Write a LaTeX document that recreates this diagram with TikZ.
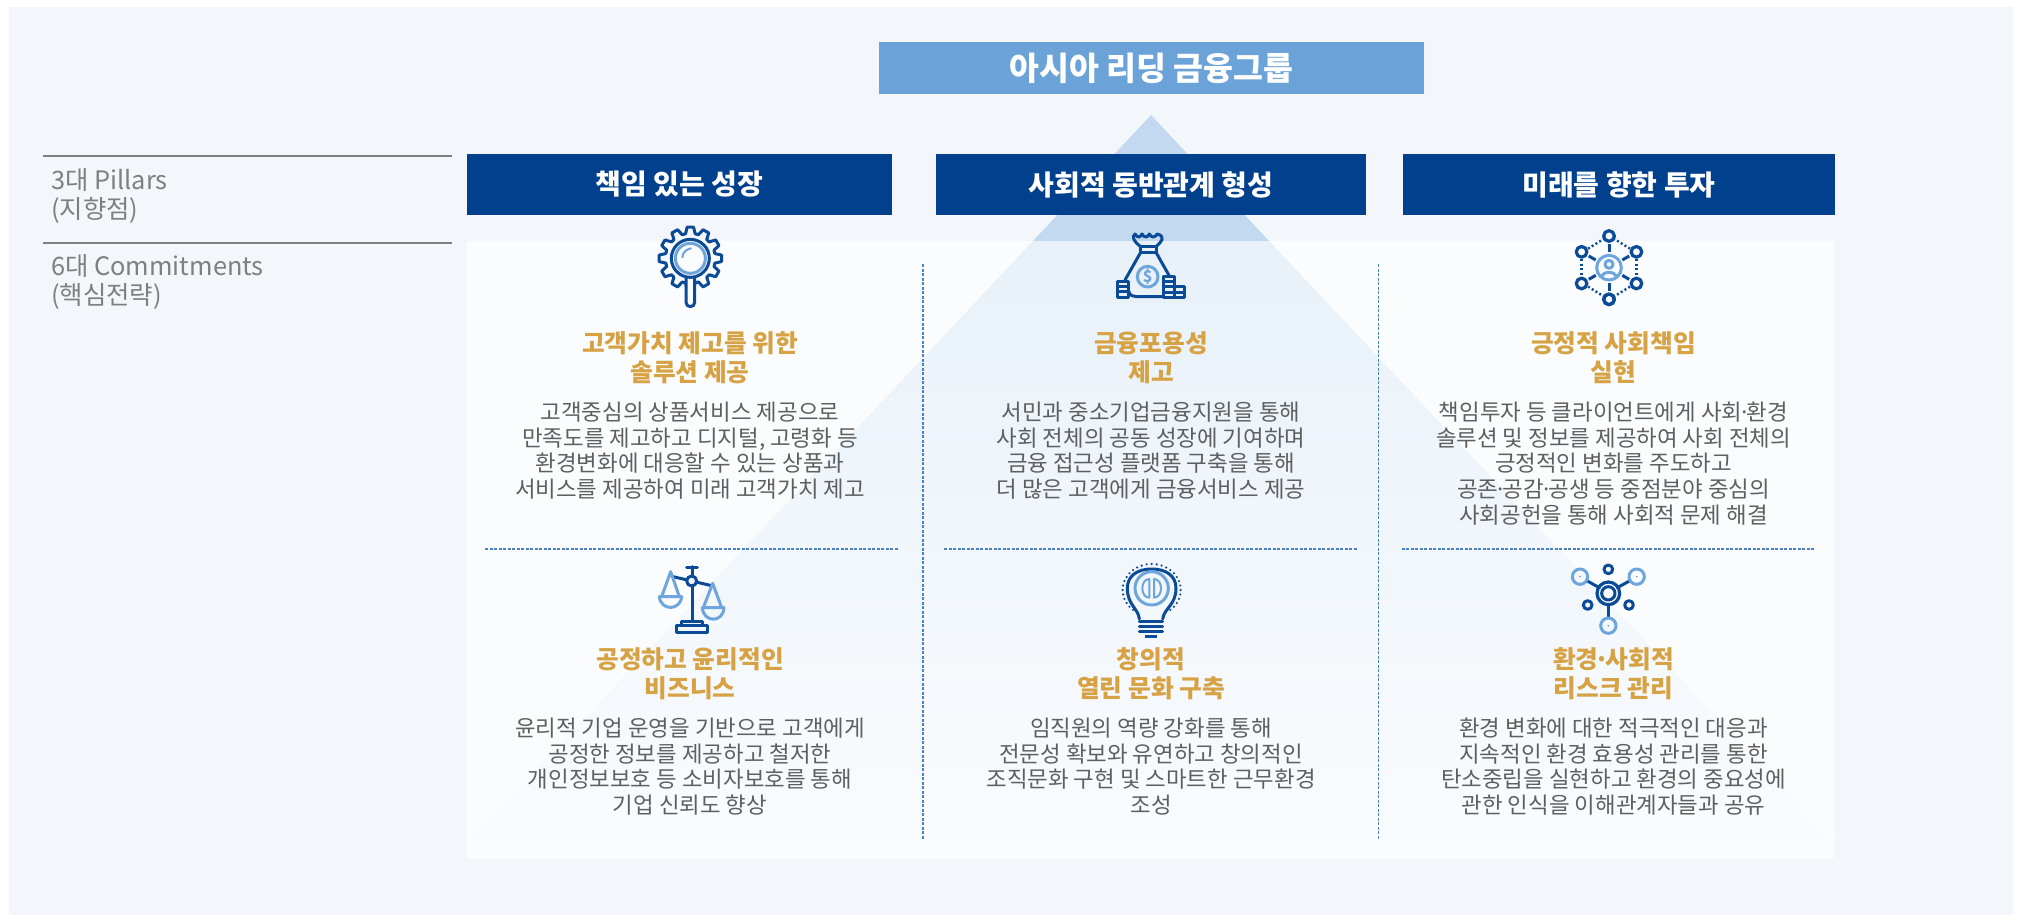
\documentclass[tikz,border=0pt]{standalone}
\usepackage{fontspec}
\setmainfont{Noto Sans CJK KR}
\definecolor{bgc}{HTML}{F3F6FB}
\definecolor{panelc}{HTML}{FAFCFE}
\definecolor{triup}{HTML}{C3D9EF}
\definecolor{tritop}{HTML}{E8F1F9}
\definecolor{tribot}{HTML}{FAFCFE}
\definecolor{navy}{HTML}{00408C}
\definecolor{topblue}{HTML}{6BA2D8}
\definecolor{icond}{HTML}{0B4A96}
\definecolor{iconl}{HTML}{6EA5DC}
\definecolor{gold}{HTML}{D6A244}
\definecolor{bodyc}{HTML}{5F5F5F}
\definecolor{sidec}{HTML}{7F7F7F}
\definecolor{dashc}{HTML}{4A82C6}
\newcommand{\mdot}{\kern-4pt·\kern-4pt}
\tikzset{
  pillar/.style={fill=navy,text=white,inner sep=0pt,minimum height=61pt,font=\fontsize{28}{32}\selectfont\bfseries},
  headbox/.style={fill=topblue,text=white,inner sep=0pt,minimum width=545pt,minimum height=52pt,font=\fontsize{32.5}{36}\selectfont\bfseries},
  sidelab/.style={anchor=west,align=left,inner sep=0pt,text=sidec,font=\fontsize{25.4}{29}\selectfont},
  goalt/.style={align=center,inner sep=0pt,text=gold,font=\fontsize{24.7}{29}\selectfont\bfseries},
  bodyt/.style={align=center,inner sep=0pt,text=bodyc,font=\fontsize{22.4}{25.7}\selectfont},
  sepline/.style={draw=dashc,line width=1.2pt,dash pattern=on 3pt off 1.5pt},
  sideline/.style={draw=sidec,line width=1.5pt},
  dk/.style={draw=icond,line width=3pt,line join=round,line cap=round},
  lt/.style={draw=iconl,line width=3pt,line join=round,line cap=round}
}
\begin{document}
\begin{tikzpicture}[x=1pt,y=-1pt]
\useasboundingbox (0,0) rectangle (2020,915);
\fill[white] (0,0) rectangle (2020,915);
\fill[bgc] (9,7) rectangle (2013,915);
% pyramid above the panel
\fill[triup] (1151,115) -- (1269,241) -- (1033,241) -- cycle;
% panel
\fill[panelc] (467,241) rectangle (1834,858);
% pyramid within the panel
\shade[top color=tritop,bottom color=tribot] (1033,241) -- (1269,241) -- (1849,858) -- (453,858) -- cycle;
\fill[bgc] (453,241) rectangle (467,858);
\fill[bgc] (1834,241) rectangle (1849,858);
% head and pillars
\node[headbox] (head) at (1151.5,68) {아시아 리딩 금융그룹};
\node[pillar,minimum width=425pt] (p1) at (679.5,184.5) {책임 있는 성장};
\node[pillar,minimum width=430pt] (p2) at (1151,184.5) {사회적 동반관계 형성};
\node[pillar,minimum width=432pt] (p3) at (1619,184.5) {미래를 향한 투자};
% side labels
\draw[sideline] (43,156) -- (452,156);
\draw[sideline] (43,243) -- (452,243);
\node[sidelab] (s1) at (51,196) {3대 Pillars\\(지향점)};
\node[sidelab] (s2) at (51,281.5) {6대 Commitments\\(핵심전략)};
% separators
\draw[sepline] (923,264) -- (923,839);
\draw[sepline] (1378.5,264) -- (1378.5,839);
\draw[sepline] (485,549) -- (898,549);
\draw[sepline] (944,549) -- (1357,549);
\draw[sepline] (1401.5,549) -- (1815,549);
% titles
\node[goalt] (t1) at (690,357.5) {고객가치 제고를 위한\\솔루션 제공};
\node[goalt] (t2) at (1151,357.5) {금융포용성\\제고};
\node[goalt] (t3) at (1613.5,357.5) {긍정적 사회책임\\실현};
\node[goalt] (t4) at (690,673.5) {공정하고 윤리적인\\비즈니스};
\node[goalt] (t5) at (1151,673.5) {창의적\\열린 문화 구축};
\node[goalt] (t6) at (1613.5,673.5) {환경\mdot 사회적\\리스크 관리};
% body
\node[bodyt] (b1) at (690,450.5) {고객중심의 상품서비스 제공으로\\만족도를 제고하고 디지털, 고령화 등\\환경변화에 대응할 수 있는 상품과\\서비스를 제공하여 미래 고객가치 제고};
\node[bodyt] (b2) at (1151,450.5) {서민과 중소기업금융지원을 통해\\사회 전체의 공동 성장에 기여하며\\금융 접근성 플랫폼 구축을 통해\\더 많은 고객에게 금융서비스 제공};
\node[bodyt] (b3) at (1613.5,463.5) {책임투자 등 클라이언트에게 사회\mdot 환경\\솔루션 및 정보를 제공하여 사회 전체의\\긍정적인 변화를 주도하고\\공존\mdot 공감\mdot 공생 등 중점분야 중심의\\사회공헌을 통해 사회적 문제 해결};
\node[bodyt] (b4) at (690,766.5) {윤리적 기업 운영을 기반으로 고객에게\\공정한 정보를 제공하고 철저한\\개인정보보호 등 소비자보호를 통해\\기업 신뢰도 향상};
\node[bodyt] (b5) at (1151,766.5) {임직원의 역량 강화를 통해\\전문성 확보와 유연하고 창의적인\\조직문화 구현 및 스마트한 근무환경\\조성};
\node[bodyt] (b6) at (1613.5,766.5) {환경 변화에 대한 적극적인 대응과\\지속적인 환경 효용성 관리를 통한\\탄소중립을 실현하고 환경의 중요성에\\관한 인식을 이해관계자들과 공유};
% gear icon
\begin{scope}[shift={(630,215)},scale=1/3]
  \draw[dk] (181,130) ++(79:75)
    \foreach \a in {90,120,...,420} { -- ++(0,0) -- ({181+75*cos(\a-11)},{130+75*sin(\a-11)}) -- ({181+94*cos(\a-6)},{130+94*sin(\a-6)}) -- ({181+94*cos(\a+6)},{130+94*sin(\a+6)}) -- ({181+75*cos(\a+11)},{130+75*sin(\a+11)}) } -- cycle;
  \fill[panelc] (166,180) rectangle (196,240);
  \draw[dk,fill=panelc] (168,185) -- (168,262) arc (180:0:13) -- (194,185);
  \draw[dk,fill=panelc] (181,130) circle (57);
  \draw[lt] (181,130) circle (45);
  \draw[lt,line width=2pt] (157,127) .. controls (158,112) and (168,103) .. (183,100);
\end{scope}
% money bag icon
\begin{scope}[shift={(1100,220)},scale=1/3]
  \draw[dk] (122,80) .. controls (105,68) and (92,50) .. (105,42) .. controls (113,54) and (120,54) .. (126,42) .. controls (134,54) and (142,54) .. (148,42) .. controls (155,54) and (163,54) .. (172,42) .. controls (198,50) and (185,65) .. (168,80);
  \draw[dk] (122,80) rectangle (168,97);
  \draw[dk] (122,97) -- (75,180);
  \draw[dk] (168,97) -- (208,168);
  \draw[dk] (85,212) .. controls (90,228) and (100,230) .. (110,230) -- (190,230);
  \draw[dk] (52,183) rectangle (85,232);
  \draw[dk] (52,199) -- (85,199);
  \draw[dk] (52,215) -- (85,215);
  \draw[dk] (190,170) rectangle (222,232);
  \draw[dk] (190,185) -- (222,185);
  \draw[dk] (190,200) -- (222,200);
  \draw[dk] (190,216) -- (222,216);
  \draw[dk] (222,200) rectangle (252,232);
  \draw[dk] (222,216) -- (252,216);
  \draw[lt] (143,170) circle (31);
  \node[text=iconl,inner sep=0pt,font=\fontsize{16}{16}\selectfont\bfseries] (dollar) at (143,170) {\$};
\end{scope}
% network icon
\begin{scope}[shift={(1560,220)},scale=1/3]
  \foreach \a in {90,150,...,450} {
    \draw[dk,line width=3.2pt] ({147+95*cos(\a)},{143+95*sin(\a)}) circle (16);
    \draw[draw=icond,line width=3pt] ({147+46*cos(\a)},{143+46*sin(\a)}) -- ({147+70*cos(\a)},{143+70*sin(\a)});
  }
  \draw[draw=icond,line width=2.4pt,dash pattern=on 2pt off 2.4pt] (160,55) -- (213,88);
  \draw[draw=icond,line width=2.4pt,dash pattern=on 2pt off 2.4pt] (134,55) -- (81,88);
  \draw[draw=icond,line width=2.4pt,dash pattern=on 2pt off 2.4pt] (160,231) -- (213,198);
  \draw[draw=icond,line width=2.4pt,dash pattern=on 2pt off 2.4pt] (134,231) -- (81,198);
  \draw[draw=icond,line width=2.4pt,dash pattern=on 2pt off 2.4pt] (65,118) -- (65,170);
  \draw[draw=icond,line width=2.4pt,dash pattern=on 2pt off 2.4pt] (229,118) -- (229,170);
  \draw[lt] (147,143) circle (37);
  \draw[lt] (147,133) circle (12);
  \draw[lt] (125,172) .. controls (127,152) and (167,152) .. (169,172);
\end{scope}
% scale icon
\begin{scope}[shift={(640,555)},scale=1/3]
  \draw[dk] (157,35) -- (157,198);
  \draw[dk] (140,37) -- (172,37);
  \draw[dk] (95,64) -- (215,92);
  \draw[dk,fill=bgc] (155,78) circle (15);
  \draw[dk] (125,198) rectangle (188,212);
  \draw[dk] (110,212) rectangle (202,232);
  \draw[lt] (65,125) -- (92,50) -- (118,125);
  \draw[lt] (58,125) .. controls (62,168) and (121,168) .. (125,125) -- cycle;
  \draw[lt] (190,158) -- (218,85) -- (245,158);
  \draw[lt] (187,158) .. controls (190,204) and (250,204) .. (252,158) -- cycle;
\end{scope}
% bulb icon
\begin{scope}[shift={(1100,555)},scale=1/3]
  \draw[dk] (118,192) .. controls (115,160) and (82,150) .. (82,100) .. controls (82,60) and (115,42) .. (155,42) .. controls (195,42) and (228,60) .. (228,100) .. controls (228,150) and (192,160) .. (188,192);
  \foreach \yy in {198,213,228} { \draw[dk] (118,\yy) -- (188,\yy); }
  \fill[icond] (136,239) rectangle (170,250);
  \foreach \a in {-50,-40,...,230} { \fill[icond] ({155+87*cos(\a)},{105-78*sin(\a)}) circle (3.6); }
  \draw[lt] (155,100) circle (50);
  \draw[lt,line width=2pt] (148,72) .. controls (120,72) and (120,128) .. (148,128) -- cycle;
  \draw[lt,line width=2pt] (162,72) .. controls (190,72) and (190,128) .. (162,128) -- cycle;
\end{scope}
% molecule icon
\begin{scope}[shift={(1560,555)},scale=1/3]
  \draw[dk] (82,78) -- (118,98);
  \draw[dk] (208,78) -- (172,98);
  \draw[dk] (145,150) -- (145,188);
  \draw[dk,line width=3.2pt] (145,115) circle (34);
  \draw[dk] (145,115) circle (20);
  \draw[lt] (60,65) circle (23);
  \draw[lt] (230,65) circle (23);
  \draw[lt] (145,212) circle (23);
  \fill[iconl] (60,65) circle (3);
  \fill[iconl] (230,65) circle (3);
  \fill[iconl] (145,212) circle (3);
  \draw[dk] (145,43) circle (13);
  \draw[dk] (83,150) circle (13);
  \draw[dk] (207,150) circle (13);
\end{scope}
\end{tikzpicture}
\end{document}
